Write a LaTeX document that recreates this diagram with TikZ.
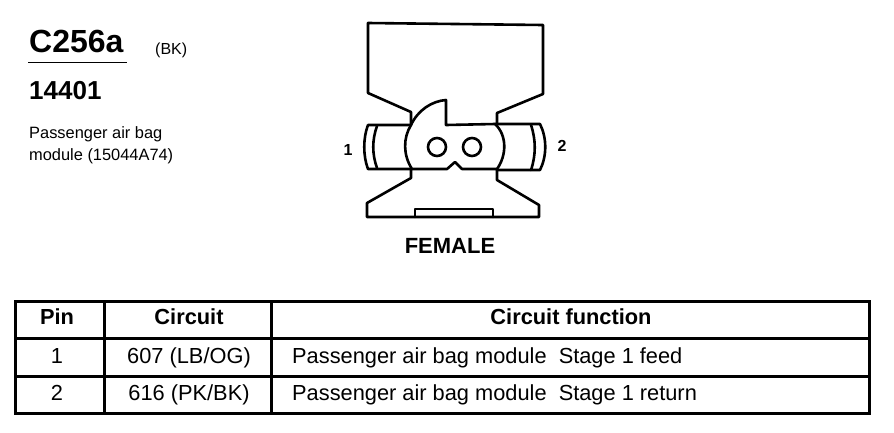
\documentclass[tikz,border=0pt]{standalone}
\usepackage{fontspec}
\setmainfont{Liberation Sans}
\newcommand{\fs}[1]{\fontsize{#1}{#1}\selectfont}
\tikzset{
  ln/.style={line width=2.6pt,line join=round,line cap=round},
  txt/.style={inner sep=0pt,anchor=base west,text=black},
  cellbox/.style={draw,line width=2.8pt,inner sep=0pt,anchor=north west},
  ctext/.style={inner sep=0pt,anchor=base,text=black},
}
\begin{document}
\begin{tikzpicture}[x=1pt,y=-1pt]
\useasboundingbox (0,0) rectangle (894,432);
\fill[white] (0,0) rectangle (894,432);
% header
\node[txt] (title) at (29,52) {\fs{32}\bfseries C256a};
\node[txt] (bk) at (155,54) {\fs{16}(BK)};
\coordinate (ula) at (28,62.5);
\coordinate (ulb) at (127,62.5);
\draw[line width=1.5pt] (ula) -- (ulb);
\node[txt] (num) at (29,99) {\fs{26}\bfseries 14401};
\node[txt] (d1) at (29,138) {\fs{16.4}Passenger air bag};
\node[txt] (d2) at (29,160) {\fs{16.4}module (15044A74)};
% connector
\draw[ln] (411,125) -- (411,112) -- (368,93) -- (368,23) -- (543,25) -- (543,94) -- (497,113) -- (497,125);
\draw[ln] (411,125) .. controls (418,110) and (432,101) .. (446,100) -- (446,125) -- (495,124)
  .. controls (507,135) and (507,155) .. (497,169) -- (462,169) -- (455,162) -- (447,169) -- (412,169)
  .. controls (403,155) and (403,138) .. (411,125) -- cycle;
\draw[ln] (411,125) -- (368,125) .. controls (363,138) and (363,156) .. (368,169) -- (412,169);
\draw[ln] (377,126) .. controls (372,140) and (372,154) .. (377,168);
\draw[ln] (495,124) -- (540,124) .. controls (547,138) and (547,156) .. (540,170) -- (497,170);
\draw[ln] (531,125) .. controls (536,140) and (536,155) .. (531,170);
\draw[ln] (411,169) -- (411,178) -- (367,203) -- (367,217) -- (539,217) -- (539,205) -- (497,180) -- (497,170);
\draw[ln] (415,217) -- (415,209) -- (493,209) -- (493,217);
\node[draw,circle,line width=2.6pt,minimum size=18pt,inner sep=0pt] (p1) at (437,147) {};
\node[draw,circle,line width=2.6pt,minimum size=18pt,inner sep=0pt] (p2) at (472,147) {};
\node[ctext] (l1) at (348,155) {\fs{16}\bfseries 1};
\node[ctext] (l2) at (562,151.5) {\fs{16}\bfseries 2};
\node[ctext] (fem) at (450,253) {\fs{22}\bfseries FEMALE};
% table
\node[cellbox,minimum width=89pt,minimum height=37pt] (c11) at (14,300) {};
\node[cellbox,minimum width=167pt,minimum height=37pt] (c12) at (103,300) {};
\node[cellbox,minimum width=598pt,minimum height=37pt] (c13) at (270,300) {};
\node[cellbox,minimum width=89pt,minimum height=38pt] (c21) at (14,337) {};
\node[cellbox,minimum width=167pt,minimum height=38pt] (c22) at (103,337) {};
\node[cellbox,minimum width=598pt,minimum height=38pt] (c23) at (270,337) {};
\node[cellbox,minimum width=89pt,minimum height=37pt] (c31) at (14,375) {};
\node[cellbox,minimum width=167pt,minimum height=37pt] (c32) at (103,375) {};
\node[cellbox,minimum width=598pt,minimum height=37pt] (c33) at (270,375) {};
\node[ctext] (t11) at (57,324.5) {\fs{21.8}\bfseries Pin};
\node[ctext] (t12) at (189,324.5) {\fs{21.8}\bfseries Circuit};
\node[ctext] (t13) at (571,324.5) {\fs{21.8}\bfseries Circuit function};
\node[ctext] (t21) at (57,363) {\fs{21.8}1};
\node[ctext] (t22) at (189,363) {\fs{21.8}607 (LB/OG)};
\node[txt] (t23) at (292,363) {\fs{21.8}Passenger air bag module\ \ Stage 1 feed};
\node[ctext] (t31) at (57,400) {\fs{21.8}2};
\node[ctext] (t32) at (189,400) {\fs{21.8}616 (PK/BK)};
\node[txt] (t33) at (292,400) {\fs{21.8}Passenger air bag module\ \ Stage 1 return};
\end{tikzpicture}
\end{document}
